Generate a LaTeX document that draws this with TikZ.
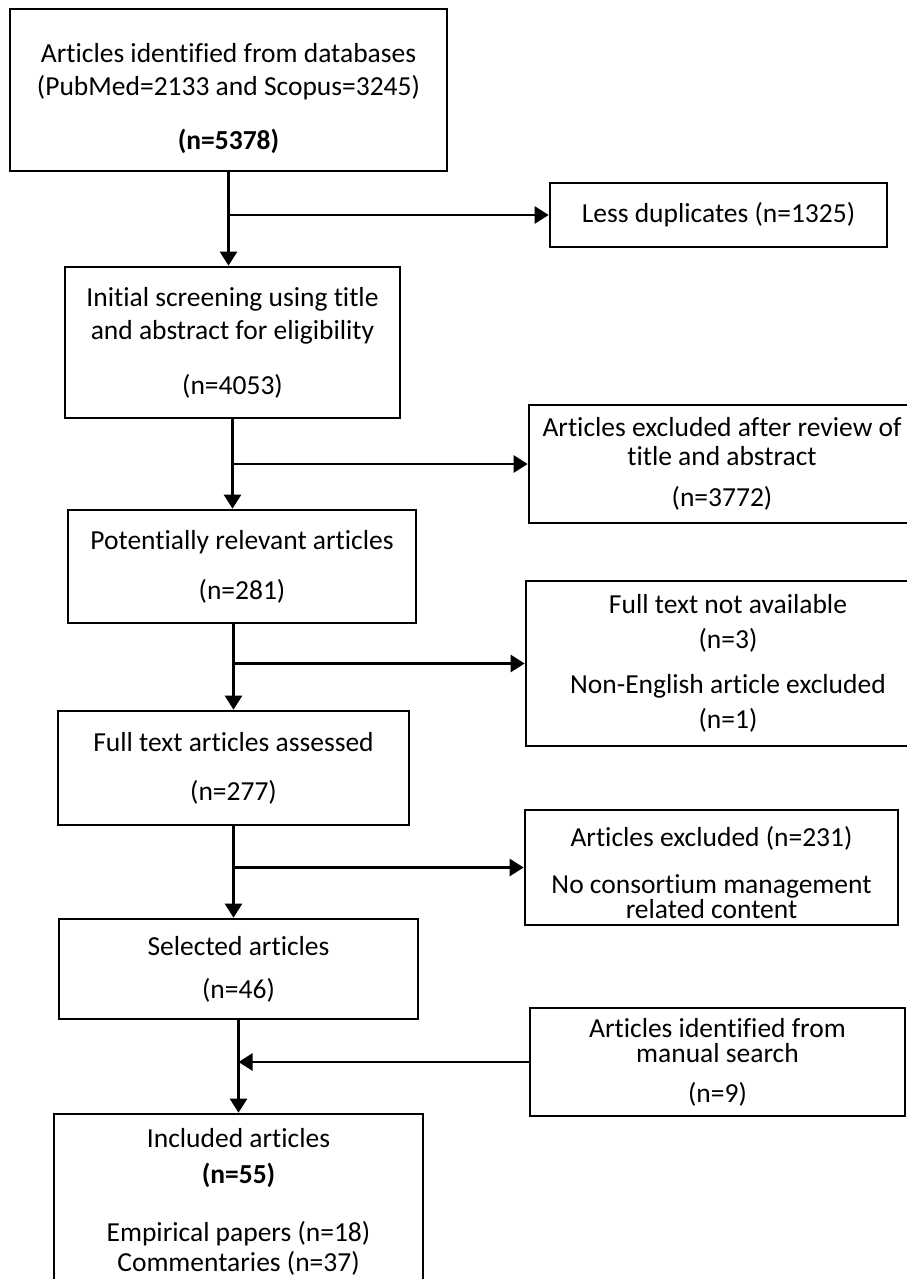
\documentclass[tikz,border=0pt]{standalone}
\usepackage{fontspec}
\setmainfont{Carlito}[Ligatures=NoCommon]
\usetikzlibrary{arrows.meta}
\newcommand{\boxfont}{\fontsize{27.5}{33}\selectfont\lineskiplimit=-30pt\relax}
\tikzstyle{box} = [draw,rectangle,line width=2.6pt,align=center,inner sep=0pt,font=\boxfont]

\begin{document}
\begin{tikzpicture}[->,>={Triangle[length=14pt,width=17pt]},line width=2.4pt,x=1pt,y=-1pt]
\useasboundingbox (0,0) rectangle (907,1279);
\clip (0,0) rectangle (907,1279);

% main column
\node[box,minimum width=437pt,minimum height=162pt] (db) at (228.5,90)
  {\rule{0pt}{36pt}Articles identified from databases\\(PubMed=2133 and Scopus=3245)\\[21pt]\textbf{(n=5378)}};
\node[box,minimum width=335pt,minimum height=151pt] (screen) at (232.5,342.5)
  {Initial screening using title\\and abstract for eligibility\\[22pt](n=4053)};
\node[box,minimum width=348pt,minimum height=113pt] (relevant) at (242,566.5)
  {Potentially relevant articles\\[17pt](n=281)};
\node[box,minimum width=351pt,minimum height=114pt] (assessed) at (233.5,768)
  {Full text articles assessed\\[16pt](n=277)};
\node[box,minimum width=359pt,minimum height=100pt] (selected) at (238.5,969)
  {Selected articles\\[10pt](n=46)};
\node[box,minimum width=369pt,minimum height=176pt] (included) at (238.5,1202)
  {Included articles\\[3pt]\textbf{(n=55)}\\[25pt]Empirical papers (n=18)\\[-3pt]Commentaries (n=37)};

% side boxes
\node[box,minimum width=337pt,minimum height=64pt] (dup) at (718.5,215)
  {Less duplicates (n=1325)};
\node[box,minimum width=386pt,minimum height=118pt] (exclreview) at (722,464)
  {Articles excluded after review of\\[-4pt]title and abstract\\[8pt](n=3772)};
\node[box,minimum width=404pt,minimum height=165pt] (notavail) at (728,663.5)
  {Full text not available\\[2pt](n=3)\\[12pt]Non-English article excluded\\[2pt](n=1)};
\node[box,minimum width=373pt,minimum height=115pt] (exclcontent) at (711.5,867.5)
  {\rule{0pt}{31pt}Articles excluded (n=231)\\[14pt]No consortium management\\[-8pt]related content};
\node[box,minimum width=375pt,minimum height=108pt] (manual) at (717.5,1062)
  {Articles identified from\\[-8pt]manual search\\[7pt](n=9)};

\path
  (db.south) edge (db.south |- screen.north)
  (db.south |- dup.west) edge (dup.west)
  (screen.south) edge (screen.south |- relevant.north)
  (screen.south |- exclreview.west) edge (exclreview.west)
  (assessed.north |- relevant.south) edge (assessed.north)
  (assessed.north |- notavail.west) edge (notavail.west)
  (assessed.south) edge (assessed.south |- selected.north)
  (assessed.south |- exclcontent.west) edge (exclcontent.west)
  (selected.south) edge (selected.south |- included.north)
  (manual.west) edge (selected.south |- manual.west);

\end{tikzpicture}
\end{document}
